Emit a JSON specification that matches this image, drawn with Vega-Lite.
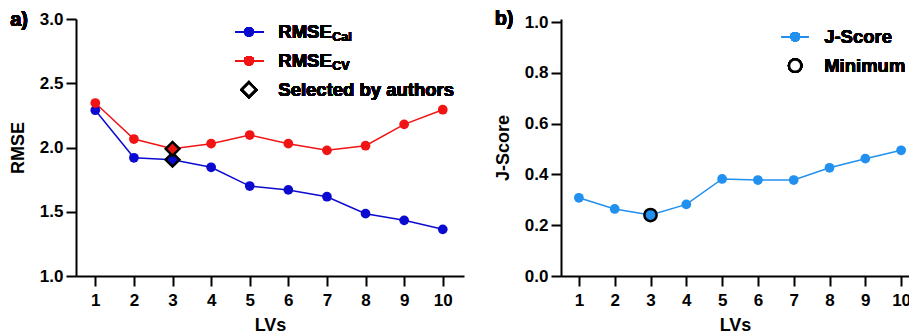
{
  "$schema": "https://vega.github.io/schema/vega-lite/v6.json",
  "padding": {"left": 9, "top": 9, "right": 0, "bottom": 0},
  "background": "white",
  "spacing": 30,
  "config": {
    "font": "Liberation Sans",
    "view": {"stroke": null},
    "axis": {
      "grid": false,
      "domainColor": "black",
      "domainWidth": 2,
      "tickColor": "black",
      "tickWidth": 2,
      "tickSize": 10,
      "labelColor": "black",
      "labelFont": "Liberation Sans",
      "labelFontSize": 17,
      "labelFontWeight": "bold",
      "titleColor": "black",
      "titleFont": "Liberation Sans",
      "titleFontSize": 18,
      "titleFontWeight": "bold"
    },
    "axisX": {"labelPadding": 6, "titlePadding": 8, "labelAngle": 0},
    "axisY": {"labelPadding": 3, "titlePadding": 12}
  },
  "datasets": {
    "rmse": [
      {"LV": 1, "series": "Cal", "RMSE": 2.29},
      {"LV": 2, "series": "Cal", "RMSE": 1.92},
      {"LV": 3, "series": "Cal", "RMSE": 1.905},
      {"LV": 4, "series": "Cal", "RMSE": 1.846},
      {"LV": 5, "series": "Cal", "RMSE": 1.70},
      {"LV": 6, "series": "Cal", "RMSE": 1.67},
      {"LV": 7, "series": "Cal", "RMSE": 1.617},
      {"LV": 8, "series": "Cal", "RMSE": 1.485},
      {"LV": 9, "series": "Cal", "RMSE": 1.433},
      {"LV": 10, "series": "Cal", "RMSE": 1.363},
      {"LV": 1, "series": "CV", "RMSE": 2.346},
      {"LV": 2, "series": "CV", "RMSE": 2.066},
      {"LV": 3, "series": "CV", "RMSE": 1.99},
      {"LV": 4, "series": "CV", "RMSE": 2.03},
      {"LV": 5, "series": "CV", "RMSE": 2.097},
      {"LV": 6, "series": "CV", "RMSE": 2.03},
      {"LV": 7, "series": "CV", "RMSE": 1.978},
      {"LV": 8, "series": "CV", "RMSE": 2.014},
      {"LV": 9, "series": "CV", "RMSE": 2.18},
      {"LV": 10, "series": "CV", "RMSE": 2.294}
    ],
    "jscore": [
      {"LV": 1, "J": 0.308},
      {"LV": 2, "J": 0.264},
      {"LV": 3, "J": 0.240},
      {"LV": 4, "J": 0.282},
      {"LV": 5, "J": 0.382},
      {"LV": 6, "J": 0.378},
      {"LV": 7, "J": 0.378},
      {"LV": 8, "J": 0.426},
      {"LV": 9, "J": 0.462},
      {"LV": 10, "J": 0.495}
    ]
  },
  "hconcat": [
    {
      "width": 388,
      "height": 257,
      "data": {"name": "rmse"},
      "encoding": {
        "x": {"field": "LV", "type": "quantitative", "scale": {"domain": [0.5, 10.55], "nice": false, "zero": false},
              "axis": {"values": [1,2,3,4,5,6,7,8,9,10], "title": "LVs", "format": "d"}},
        "y": {"field": "RMSE", "type": "quantitative", "scale": {"domain": [1, 3], "nice": false, "zero": false},
              "axis": {"values": [1, 1.5, 2, 2.5, 3], "format": ".1f", "title": "RMSE"}}
      },
      "layer": [
        {
          "mark": {"type": "line", "strokeWidth": 1.5},
          "encoding": {"color": {"field": "series", "type": "nominal", "scale": {"domain": ["Cal", "CV"], "range": ["#0b0bd0", "#f01414"]}, "legend": null}}
        },
        {
          "mark": {"type": "point", "filled": true, "size": 95, "opacity": 1},
          "encoding": {"color": {"field": "series", "type": "nominal", "scale": {"domain": ["Cal", "CV"], "range": ["#0b0bd0", "#f01414"]}, "legend": null}}
        },
        {
          "transform": [{"filter": "datum.LV == 3"}],
          "mark": {"type": "point", "shape": "diamond", "filled": true, "size": 190, "stroke": "black", "strokeWidth": 2.5, "opacity": 1},
          "encoding": {"fill": {"field": "series", "type": "nominal", "scale": {"domain": ["Cal", "CV"], "range": ["#0b0bd0", "#f01414"]}, "legend": null}}
        },
        {
          "mark": {"type": "rule", "color": "#0b0bd0", "strokeWidth": 1.5},
          "encoding": {"x": {"datum": 4.63}, "x2": {"datum": 5.35}, "y": {"datum": 2.9}}
        },
        {
          "mark": {"type": "point", "filled": true, "size": 95, "color": "#0b0bd0", "opacity": 1},
          "encoding": {"x": {"datum": 4.98}, "y": {"datum": 2.9}}
        },
        {
          "mark": {"type": "rule", "color": "#f01414", "strokeWidth": 1.5},
          "encoding": {"x": {"datum": 4.63}, "x2": {"datum": 5.35}, "y": {"datum": 2.675}}
        },
        {
          "mark": {"type": "point", "filled": true, "size": 95, "color": "#f01414", "opacity": 1},
          "encoding": {"x": {"datum": 4.98}, "y": {"datum": 2.675}}
        },
        {
          "mark": {"type": "point", "shape": "diamond", "filled": true, "fill": "white", "size": 200, "stroke": "black", "strokeWidth": 2.5, "opacity": 1},
          "encoding": {"x": {"datum": 4.98}, "y": {"datum": 2.45}}
        },
        {
          "mark": {"type": "text", "text": "RMSE", "align": "left", "baseline": "middle", "fontSize": 18.5, "fontWeight": "bold", "color": "black"},
          "encoding": {"x": {"datum": 5.74}, "y": {"datum": 2.9}}
        },
        {
          "mark": {"type": "text", "text": "Cal", "align": "left", "baseline": "middle", "fontSize": 12.5, "fontWeight": "bold", "color": "black", "dx": 54, "dy": 5},
          "encoding": {"x": {"datum": 5.74}, "y": {"datum": 2.9}}
        },
        {
          "mark": {"type": "text", "text": "RMSE", "align": "left", "baseline": "middle", "fontSize": 18.5, "fontWeight": "bold", "color": "black"},
          "encoding": {"x": {"datum": 5.74}, "y": {"datum": 2.675}}
        },
        {
          "mark": {"type": "text", "text": "CV", "align": "left", "baseline": "middle", "fontSize": 12.5, "fontWeight": "bold", "color": "black", "dx": 54, "dy": 5},
          "encoding": {"x": {"datum": 5.74}, "y": {"datum": 2.675}}
        },
        {
          "mark": {"type": "text", "text": "Selected by authors", "align": "left", "baseline": "middle", "fontSize": 18.5, "fontWeight": "bold", "color": "black"},
          "encoding": {"x": {"datum": 5.74}, "y": {"datum": 2.45}}
        },
        {
          "mark": {"type": "text", "text": "a)", "align": "center", "baseline": "middle", "fontSize": 20, "fontWeight": "bold", "color": "black"},
          "encoding": {"x": {"datum": -0.976}, "y": {"datum": 2.995}}
        }
      ]
    },
    {
      "width": 348,
      "height": 257,
      "data": {"name": "jscore"},
      "encoding": {
        "x": {"field": "LV", "type": "quantitative", "scale": {"domain": [0.5, 10.22], "nice": false, "zero": false},
              "axis": {"values": [1,2,3,4,5,6,7,8,9,10], "title": "LVs", "format": "d"}},
        "y": {"field": "J", "type": "quantitative", "scale": {"domain": [0, 1.012], "nice": false, "zero": false},
              "axis": {"values": [0, 0.2, 0.4, 0.6, 0.8, 1.0], "format": ".1f", "title": "J-Score"}}
      },
      "layer": [
        {"mark": {"type": "line", "strokeWidth": 1.5, "color": "#2190ee"}},
        {"mark": {"type": "point", "filled": true, "size": 95, "color": "#2190ee", "opacity": 1}},
        {
          "transform": [{"filter": "datum.LV == 3"}],
          "mark": {"type": "point", "filled": true, "fill": "#2190ee", "size": 150, "stroke": "black", "strokeWidth": 2.5, "opacity": 1}
        },
        {
          "mark": {"type": "rule", "color": "#2190ee", "strokeWidth": 1.5},
          "encoding": {"x": {"datum": 6.665}, "x2": {"datum": 7.41}, "y": {"datum": 0.942}}
        },
        {
          "mark": {"type": "point", "filled": true, "size": 95, "color": "#2190ee", "opacity": 1},
          "encoding": {"x": {"datum": 7.04}, "y": {"datum": 0.942}}
        },
        {
          "mark": {"type": "point", "filled": true, "fill": "white", "size": 150, "stroke": "black", "strokeWidth": 2.5, "opacity": 1},
          "encoding": {"x": {"datum": 7.04}, "y": {"datum": 0.828}}
        },
        {
          "mark": {"type": "text", "text": "J-Score", "align": "left", "baseline": "middle", "fontSize": 18.5, "fontWeight": "bold", "color": "black"},
          "encoding": {"x": {"datum": 7.85}, "y": {"datum": 0.942}}
        },
        {
          "mark": {"type": "text", "text": "Minimum", "align": "left", "baseline": "middle", "fontSize": 18.5, "fontWeight": "bold", "color": "black"},
          "encoding": {"x": {"datum": 7.85}, "y": {"datum": 0.828}}
        },
        {
          "mark": {"type": "text", "text": "b)", "align": "center", "baseline": "middle", "fontSize": 20, "fontWeight": "bold", "color": "black"},
          "encoding": {"x": {"datum": -1.09}, "y": {"datum": 1.012}}
        }
      ]
    }
  ]
}
